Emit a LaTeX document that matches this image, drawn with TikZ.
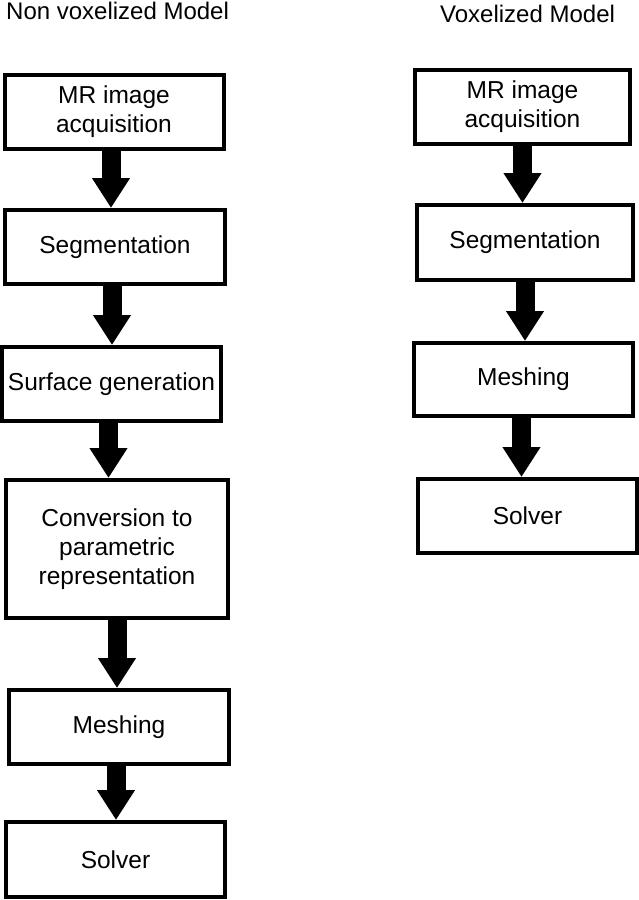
\documentclass[tikz,border=0pt]{standalone}
\usepackage{fontspec}
\setmainfont{Liberation Sans}
\usetikzlibrary{arrows.meta,positioning}
\tikzset{
  stage/.style={draw,line width=4pt,inner sep=0pt,align=center,
    minimum width=219pt,minimum height=74pt,font=\fontsize{24.5}{29}\selectfont},
  flow/.style={line width=19pt,-{Triangle[width=36pt,length=30pt]}},
  heading/.style={anchor=base west,inner sep=0pt,font=\fontsize{24}{29}\selectfont}
}
\begin{document}
\begin{tikzpicture}[x=1pt,y=-1pt]
    \useasboundingbox (0,0) rectangle (639,900); % page
    \node[heading] (nvtitle) at (6,19) {Non voxelized Model}; % left title
    \node[heading] (vtitle) at (440,22) {Voxelized Model}; % right title
    % non voxelized chain
    \node[stage] (nvacq) at (114,111.5) {MR image\\acquisition};
    \node[stage,minimum width=220pt] (nvseg) at (115,247) {Segmentation};
    \node[stage] (nvsurf) at (111.5,384) {Surface generation};
    \node[stage,minimum width=222pt,minimum height=138pt] (nvconv) at (117,549) {Conversion to\\parametric\\representation};
    \node[stage,minimum width=220pt] (nvmesh) at (119,727) {Meshing};
    \node[stage,minimum height=75pt] (nvsolv) at (115.5,859.5) {Solver};
    \draw[flow] ([xshift=-3pt]nvacq.south) -- ([xshift=-3pt]nvacq.south |- nvseg.north); % arrow
    \draw[flow] ([xshift=-3pt]nvseg.south) -- ([xshift=-3pt]nvseg.south |- nvsurf.north); % arrow
    \draw[flow] ([xshift=-3pt]nvsurf.south) -- ([xshift=-3pt]nvsurf.south |- nvconv.north); % arrow
    \draw[flow] (nvconv.south) -- (nvconv.south |- nvmesh.north); % arrow
    \draw[flow] ([xshift=-3pt]nvmesh.south) -- ([xshift=-3pt]nvmesh.south |- nvsolv.north); % arrow
    % voxelized chain
    \node[stage,minimum width=215pt] (vacq) at (522.5,107) {MR image\\acquisition};
    \node[stage,minimum width=216pt,minimum height=75pt] (vseg) at (525,242.5) {Segmentation};
    \node[stage,minimum height=73pt] (vmesh) at (523.5,379.5) {Meshing};
    \node[stage] (vsolv) at (527.5,516) {Solver};
    \draw[flow] (vacq.south) -- (vacq.south |- vseg.north); % arrow
    \draw[flow] (vseg.south) -- (vseg.south |- vmesh.north); % arrow
    \draw[flow] ([xshift=-2pt]vmesh.south) -- ([xshift=-2pt]vmesh.south |- vsolv.north); % arrow
\end{tikzpicture}
\end{document}
